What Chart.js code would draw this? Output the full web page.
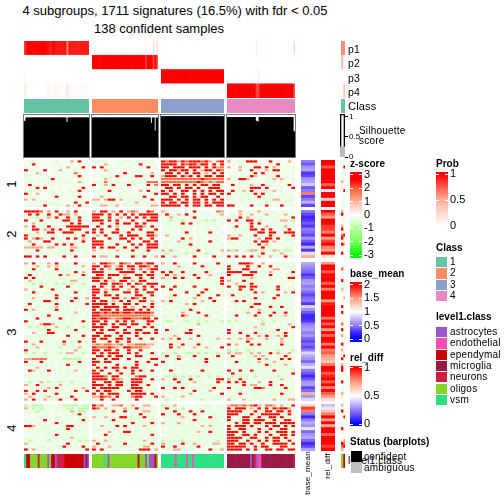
<!DOCTYPE html>
<html>
<head>
<meta charset="utf-8">
<script src="https://cdn.jsdelivr.net/npm/chart.js@4/dist/chart.umd.min.js"></script>
<style>
  html, body { margin: 0; padding: 0; background: #fff; }
  #page { position: relative; width: 504px; height: 504px; overflow: hidden; font-family: "Liberation Sans", sans-serif; color: #000; }
  #page canvas, #page .txt, #page .swatch { position: absolute; }
  .txt { white-space: nowrap; line-height: 1; letter-spacing: 0.2px; }
</style>
</head>
<body>
<div id="page"></div>
<script>
// heatmap rows, one char per two samples, see zLevels
const s1g1 = [".,,.....,...o.r..","..r.....,...,....",",..,...,.,.o...r.","r.,..r...o...,...",",..o,...,.,.,O,..",",,...,..,..,.,r,.","...,..,r.,,...,..",",,.,..,,,,,,,.o,.",".r,..,.,.....,...","...r.r...,...,.r.",",,,,,,,,.,.,,.r,,","r,.o...,..,...,..","...,...,r...,.r..","o.o,.,...,.,.,..,","..,.,,,,,....r..r",",,,,,r,,,,,o,.r,,"];
const s1g2 = [",,.,...,,,..,,,,.","...o,..,..,.r..,.","r.r...,..,..,.r.,","..,o,....,..,....","....,...r,.....o,",",.,,,,r,..,rr,,r.","...o.........,...",",,,O,,,,,,,,,.OOO","r.,o.r,..r,...r.O","...,,.,..,...,..,",",,,,r,..,...o.r.,","...,,..,.,..,..,r","..o,,.,,,,,,.r..,","oo.orr.o.,,,,,.r.",",,,,,,,.,,,o,,,.,",".,oo,,o.,,,,,.,oo"];
const s1g3 = ["rOrrorOrrrOro.Or","rrrr.rOrrorr.r.r","rr.rrr.rrr.r.roO","r.rrorr.r.orr.rO",".rr.r.r.rr.o.r.r","orrr.ror.r.rr.rr","OOOOOOOOOOrOOOOO","OOOOOOOOOrOoOoOO","rr.rr.r.r.rr.rr.",".rr.r.rr.r..rrr.","r.r..rr.r.r.r.rr","rr.r.r..r.r.rr.r","..rr.rr.r.rr..r.","rrr.r.r.rr.r.r.r","r.rr.rr.rr.r.rrr","rrrrr.r.rr.rr.rr"];
const s1g4 = ["o.,,,rrr..,r.,..o.","...,,...,,.,,r.,..","o..o..,rr.r.o,..,,","...o..r.,.o.rr.,.,","..,.,.,r.r,.,,...,",".,.,,,ro,.,,.r.,..","o.,rro,...,,o,o,.,",".,.,.,,.,.,.,.,,.,",".r,,.,o,.r,,.,.,r,","...,.,rrr.r...,..r",",r.,o,r..,,,o,,...","r.,.,,,r.r.,..,...","...,,,.,r,.,,,,,,.",",,.,,.,,.,.,oo.,,,","...,,.,.,.,,.,,,,.","rr,..,r.,,r,..r.,,"];

const s2g1 = ["rrrrO.o.r,.o.r.,.",".r.r..r,.roo,o.,.",",,,-,,o,r,,r.,r,.","r..,r,.,.,rr,.r,,",",.o,.,.,.,.,r,r..","o.r.,.r.,.,rrrrrr",",,rr,o,r,r,.rrr.,",".,.o.,rr.,rrr.,.r","r,,,.,.,,.,,,,.r,","r.oro,.r,.,r.r.o,",",o.,.rr,.,.,.,,r.",".,r,,.,.r,r,r,.,,","ooooo.oo.,.,oo,.,",",,.r,.,,.,.,r,,.,",".,,,,,,.,,,,,,.,,","rr.r.r,..,r.,r.,,"];
const s2g2 = ["o.rr.o.r.oOo.,rO.","rrr.r.r,r.r.rrrrr","rr.,r.,o.r.r.r.rr","rrr.r.r.,.r,.,rrr",".,r,.,r.rr.r,r.,,",".r,.r.o,..,rro.r,","r,r,..r.,.r,r.,.r","r.r.,rr.,r.,,.rr,",",o,r.,.r.rrr.,rro","r.,.r,.rr,r.r.,r.","rrr.,,.,.r.,.rr,r","rrr.,,r,,.r,r.rrr","r.r,rr.,r.,r..rrr","o,,.,.o,.,r.,,r.,",",,,,,.,.,,,,,,,.,","r.oo.,r.,.r,.r.,o"];
const s2g3 = ["o,.,,.,.r,.,..Oo",".r,.o,r.,.,.,.,o",",.o,,,.,r,.,.,.,",",,-,,-,,,,,-,-,,",",,.,,r.r.,,,,,.,",".,,,.,.,.,.,.,,.","..,,.,.,.,.,,.,.",",,.,.,r,.,.,r,.,",".o,.,.,,.,.,.,,.","..,,.r,o.,,.,.,.",",,,.o,,,.,.,r.,.",".,.,.,,r.,.,.,.,",",,,,,,,,,,,,,,,,","o.o,,.,.,r.,,.,o",",-,,,,-,,,,-,,,,","r,,o,.,.r,.,.r,,"];
const s2g4 = ["...o,,.,o,.,,.,,.,",",,.o.,o,.,o,.,,o.,",".,,r,o.,,,.,,,.,.r","r.r.,rr.-,,.,,oo,-",".,.,.,r.r,.,,,.,,,",".,r,,,r,,.o,.,,o,,",",,,,,,rr.r,r..,,r.","..,.,,.,rr.rr,.rrr","o,,o,,,r.,.r,.,,.r","orr,.,.,o.rr,r,,,,",",.,.,.,r.rr,o,.,,.",".,.,.,,,r,o,.,,,.,","..,,,.,,.r,.,,.,,,","o-o,,-oo,-,,o-,--,",".,,.,.,.,r,.,,o,.,","r.r.r.r.o,,o.,.r,,"];

const s3g1 = ["o.r.,.o.r,.,,r.,.",",.,o,.o,o,.,.,,o.","..r.,.,.r.,,,.,.,",",,,,,,,,,,,,,r,o,",".r.,.,.,.r,o,.,r,","r,r,,.,,,,,.,.,.,",",o,,,.,,,.,,oo,,,",",,-,-,,,-,-,-,,-,",",.,.r,,,,,.r,.,,,","o.,.,.,r,.,.,.,.,","..r,.,,,.,.,,r,.,",",,,,.,.,r,,,.,,.,","..o,.,.,r,.,,r,,o","..,,.rr,,.,.r,,.,",".r.,.,.,r,.,.,,,r",",,.,,.,,o,.,.,,,.","r,o,.,,,r,,,.,.,.",",,.,,,,.,,.,,o,.,",",.,.,.r.,.,.,,,.,","..,r,,,,,r,.,,.,,","r.,.,.,,.,,.,.,r,",",,,,orro,,,,,.,,,",",-,-,-,,o,,-,.,-,","...,,,r,,.,,,r,.,","..o,.,rr,.,.,.,,.",",,.,,,,,,.,r,,.r,",".,.,,,.,.,.,.,,,.","r.,.r,,.,,r.,,r.,",",,o,,,.,,,o,,.,,,",",,,o,,,.,-,,,,o,,","r.,,.,,,.,.,,o,,,","-,-,,-,,,-,oo,,-,",".,.,,,,.,.,,.,,,.","ooOOOO,,,,-----,,","r.,.r,.,.,,.,.r,.",",,,,.,,,.,.r,,,,.","...o,,.,.,.,.,.,,",".ro,.,r,.,,,,o.,.","..,.,.,.,,.,,,.,.",",,,,,,,.,,,,.,,,,",".,.,.,.,,.,.,.,.,",",-,,o,-,,-,,-,,,,","o,.r.,,,.o,,.,.,.","..,,.,o,r,,.,,,o,","r,,r.r,.,.,.,r,,r","o,r.,,.,r,.,.,.,,",",o,.,,o,,.,.r,,.,","o.r,.o,,,r,.,r.,."];
const s3g2 = ["o.rrOo.rOo.rrorr.","rr.rO.or.rr.rrO.r","r.r.o,rr.or.O.orr","rrr.,.,rrrr.,r.r.",".rr.rrr.o.,rr.rr,","rrO.r.,.rr,.r,.r.","rr,r,o,rr,o,rr.,,",",,rr.rrO.r.rO,rrr","r.r,.r.r.,r,.r.r.","rr,o,rr,.o,r.r,,r","rr.r,,.,rr.r.,rr.","r,,rr,r.,.,rr,.r,","rr.,.rr,o,rO,r.,.","r.rr.o.r.r.,rr,o.","rrrr,r,,rr.r,.,r,","rr.rrrr,r.o.,r.r,","r,rrr.r.rrr,r,r.,","rrOrOrrOrrOrrrrO.","rrOOOOOOOOOOOOOo,","rOrrOoOOrrOOOrr.r","rr.r,.r,r,r,.,rr,","r,rr.r,rr,rr,.r.,","rrr.,rr.,r,,.r.r,","r.r,rr.,r.,rr,,.r",".rr,.,r,rr,r,rr.r","rr,rr,,r,.,r,,,.,","r,rr,.rr,r,,r.,r.","r.,,r.r,.r.,.,.,,","oOoOOooO,ooOOOoo,","rOOOrOo,rrOOOoo.,","rr,rr,r.,r,,r,,.,","r,r,rrr,,r,r.,,r,",",rr,r.rr,.,rr,.,,","r,.r.rr,.r,.,,,rr","rr,rr.,.,.,r,.r,,","r.,.,,r,,,.r,,.,r",",r,r.rr,r,rr,,.,.","r,r.,,r,.,r,r,,r.","rr,,r,.r.,r,.,,,.","rrrO,rr,.,.Orr,.,","rrrr,rOo,,rrr,.r,","r,,rr,rr.,rrr,.,.","rrr.r.rr,,rr,,r,,","r.rrrrr,.,rrr,.,,",".r,rr,,.,r,rr,,,.","r.r,rrr,.,rrrr.r,","oorOO.r,.,Orr,,.r",",,r.,r.,.,.r,.,,."];
const s3g3 = ["o,,r,.,.r,.,.,r,",",.,,o,,.,.r,,.,,","..,,,,,,,,,,,,,,","r.r,.r,,.,.r,.,,",",r,o,,.,r,,,o,,.","o,,r,r,.,r.,,.,r",",,,,.,,,.,.,,,.r","...,.,.,.,.,,,,r","r,.r,,.,r,.,,,.,",",.r,,.,.,.,r,.,,",",.,,.,r,,,r,,,.,","..,r,.,.,r,.,,r,",".,,,,.,,o,,,r,.,","o,r,,.,.,.o,.r,.",".,,.,,o,r,,,.,.,",",.,,,,,,,,.,,,,.",".,.,,,,r,,.,,,.,","..,.,o,,.r.,,,,.",",,,,,ro,,,,r,.,,",",,.,,.,,,,,,,,,.",",--,,,-,,-,-,,,-",",.,.,,.,,o,,.,.,",",.,,,.,,,.,.,,,,",".r,,.,,r,.,,,.,.",",,,,,,rr.,,,,,.,",",,,o,.,,.r,,,,,,","o,o,r,,o,.,.,,o,",".,,,,,,,,,,.,,,,",",.r,,r,,,r,.,,.,",",,r,o,.,o,,o,.,r",".,.,,,.,,,,,,,.,","-,,-,,--,-,-,,-,",",r,,o,,,r,,.,,r,",",,.,r,.,,.,r,,,,","r,.,,.,,.,,r,.,.",",,.,,,,,,,,,,,,,",".,,,.,,,,,,.,,,,",",,r,.,,,.,r,,,.,","...,,,,.,.,,,,.,",",-,-,-,-,-,,-,-,","o,,r,,,r,.,.,,rr",",,.,r,,,o,,.,.r,",",.,,.,,.,.,,,,,.","r,,r,r,,,,,,,r,,",",,.,,,,,r,.,o,.,",",.,,.,,o,,,,,.,r","o,.,,o,,,,.,,,,,",",-,,.,,,,,-,,,,."];
const s3g4 = [",,.rrrO.,o.,,.,,.,","r,.,,r,.r.,r.,,,,,","r.,.rr.,.,.,oo.,,.","rrrr.,rr.,,o,.,.,r","r,.,rrr,.,.r.,.,.,",",.,.,,o,.,.,,.,,rr","o.,.r,.,,.,,,.,,,,",",,o,,,r,.,,,.,,,.,","r.,rr.rr,,,,.r,.,,",",,.r,,r,,.,.,r.,,,",",.,,.,,r,o,,.,.o.r",",r,,,,,.,,,.,r.,,.",",.,,,,,r,,.,r,,,,.",".,r,r,,,.,,.,,,,,,","..,.,,,rr,.,,,,,.,",",,.,,,r,,.,r,,r.,.",".,,,,,,.o,,,,,.,,,",",.,,,o,.r,,,r,,r,,",".,r,.,,r,,,r,,,o,,",",,.,.,.,,,,,,,,,,,","-,-,,,,.,-,,-,,,.,",",,.,,,,,,o,,,.,.o,",".,.,,,,o,,,,.,,,,r","r,.,,,.,,,.,,r,,.,","r,.r,,,r,,,,,,,r,,",".,,.,r,,o,r,,o,r,,","o,,o,oo,,,o,,,o,,,",",,,.,r,,,,,,.,o,,,","r.o,,,r,r,,,.,r.,,","..,.,,,,,,,.,,.,,,","-,-,,-,,,,,,,-,,,-","o,oo,,o,o,,r,o,,o,",",r,,.,,o,o,,.,.r,,",",,,,,,,,r,o,.,r,r,",",.r,.,,.o,.,o,,,,.",",,.,,,,,,,r,,,,o,,",",,,,,,,,,.,,,,,,,,","r,.r,,r,,,.,r,,,.,",".r,,,.,,,,,,.,.,,r",",-,-,,,-,,,,,-,,,,","o.,r,,,,,,,.,,o,,.","r,r,r,,.o,,r,,,,.,",".,,,r,oo,.,r,,r,,,","r,,,.,,rrO,,,.,r,,",",.,,,.,,,,.,,,.,,,",".,,r,.,,.,,,,,r,,,",",,,,.,,,,,,,,.,,,,","o,,,o,,,,,,,o,,,oo"];

const s4g1 = ["-,---,,,.,----,--","o,-,-,.,,,,--,---",",,,-,,,.,.,,o,--,",",,.,.,,.,.,.,,r,.","...,,.,.,,.,,.,.,",",.,.,r,.,.,.,.,r,",",,.,.,.,r,,,.,,,,","rro,,,,,.,,rr,,,,",".,,,.,,.,,,r.,.,.",",,.,,,,,,,.,,,,,,","..,,.,,,r,,,,,.,,",",,.,.,.,,,,,o,,,,",",-,,,,-,,.,,,,-,-","o,,.,,.,,.,r,,.,,",",,.,,,,,,,r,,,,r,","r,o,,.,,.,.,.,.,r"];
const s4g2 = ["roO.,ooO,,o,,oo,.","rO,o,,.,o,,r,,.,,",",,,,,r,.r,,,,oo,.",",,.,,.,,,.,.r,,.,","o,,o,,,rr,,,,r,,.",",,.,,r,,.,,,,.,,,",",.,,,.,,,,r,,,,r,",",.o,,,r,r,,,,o,,,",",,,,,,,,.,.,,,,,,",",,.,o,,,rr,,.,,,,","..,r,,.,,,,,,,,r,",",,.,,.,,,,,,,.,,,","o,,o,,.,,.,,,o,,,",",r,,,,,,r,,,,,,r,","o,.,o,,,,,,,,oo,,","r,r,,.,,,,,,rrr,o"];
const s4g3 = ["-,,o,,.,,,,,,.,,",",r,,.-,.,,,,,.,,",",.,r,,,r,,r,,,,,","r,,,r,,,r,,.,,,,",",,,,,o,.,,,.r,,,",".,,,,,,,r,,,,,,.","o,,,o,.,.,,.,,,,",",,,,,,,,,,o,o,,,",",.,,.,,,,,,,,,,.",",,,,,,,,,o,,r,,,","..,.,.,,,,,,,,,,",",,,,,,,,,,,,,.,,","-,,,,-,,,,,,,,-,","o,,.,r,,o,,,,oo,","r,,r,,.,,r,.,,.,",",,,oo,,,,,,.r,,o"];
const s4g4 = ["oOOoOoOro,OOo,o.,r","r.rrr,o,r,r.rOrro,","rrrr,,.r,,rr.rr,r,","rrr,,,r,,rrrrr,,r.","r.,,rr,.r,,rr,r,,.","r,.,rr,rrr,,r,,rr,",",,r,rr.rr,rrr,rrrr","r,rrr,r,,,r,rr,r,r","r,,rr,,,r,,r,,rr,.","rrr,r,,,r,r,,rrr,r","rr,,rr,r,,,r,,rr,r","rrrr,,rr,,r,rr,r,,","rrr,,r,,r,r,rr,,r,","rr,rr,r,,r,,rrrr,r","rrrrr,,r,rr,,,rr,,","rrrr,r,r,,rr,rr,rr"];

// row annotations
const baseMean1 = [.5,.4,.6,.65,.3,.35,.6,.65,.8,.4,.5,1.6,.35,.5,.7,.35];
const baseMean2 = [.5,.35,.25,.3,.4,.3,.5,.45,.35,.6,.4,.25,.7,.3,.9,1.4];
const baseMean3 = [.7,.6,.5,.45,.3,.4,.6,.65,.5,.6,.45,.35,.45,.5,.3,.85,.6,.4,.25,.25,.3,.5,.6,.65,.5,.6,.45,.35,.45,.35,.5,.85,.7,.6,.45,.7,.9,.5,.4,.25,.4,.6,.65,.35,.45,1.4,.6,.85];
const baseMean4 = [1.2,1.8,1.6,.5,.25,.5,.7,.6,.9,.45,.6,.7,.45,.25,.35,.65];
const relDiff1 = [1,1,.85,1,1,1,1,1,.85,1,.45,1,1,.6,1,1];
const relDiff2 = [1,.85,.75,1,1,.9,.9,.8,1,.75,.9,1,.8,.75,1,.58];
const relDiff3 = [.75,1,1,.85,1,1,1,.85,1,.8,1,1,1,.75,.95,1,1,1,1,.8,1,.85,1,.75,1,.85,1,1,.8,1,.8,.85,.75,.7,.65,.8,1,1,.85,.95,1,.85,1,.8,1,.85,.75,.6];
const relDiff4 = [.38,.45,.65,.8,1,.75,1,.7,1,1,.85,1,1,1,.9,1];
const strip1 = [",.","..",",r",".,",",.","..",".,","o.","..",",.",".r","..",".,",",.","..",",,"];
const strip2 = ["o.","r.",".,","..",",.","o.","r.",",,","Or","r.",",.","ro",",.","..","r.",".,"];
const strip3 = ["..",".,","O.",",.","..",".,","r.",",.","..","o,",",.","..",".o",",.","..","r.",",.","r,",".,","..",",.","O.",",,","r.","..","o.",",.","..","r,",".,","o.","..",",r","r.",",.","o.","r.","r.",".,",",.","..","r,",".,","..",",.","o.",",.",".."];
const strip4 = ["o.",".,","r.",",.",",r","..",".,",",.","r.",",.",".,","..",",o","rO","Or","o."];

// column annotations, per sample
const p1g1 = [.85,1,1,1,1,1,1,1,1,1,1,1,.95,.9,.95,1,.93,.93,.93,.93,.93,.93,.65,.92,.92,.92,.92,.92,.92,.92,.92,.92,.92,.92];
const p2g1 = new Array(34).fill(0);
const p3g1 = [.03,0,0,0,0,0,0,0,0,0,0,0,0,0,0,0,0,0,0,0,0,0,0,0,0,0,0,0,0,0,0,0,0,0];
const p4g1 = [.1,0,0,0,0,0,0,0,0,0,0,0,.08,0,.04,.04,.05,.05,.04,.04,.03,.04,.15,.04,.03,.03,.03,.03,.03,.03,.03,.03,.03,.03];
const p1g2 = [0,0,0,0,0,0,0,0,0,0,0,0,0,0,0,0,0,0,0,0,0,0,0,0,0,0,0,0,.03,0,0,0,.15,0,.2];
const p2g2 = [1,1,1,1,1,1,1,1,1,1,1,1,1,1,1,1,1,1,1,1,1,1,1,1,1,1,1,1,.85,1,1,1,.8,1,.75];
const p3g2 = new Array(35).fill(0);
const p4g2 = new Array(35).fill(0);
const p1g3 = new Array(33).fill(0);
const p2g3 = new Array(33).fill(0);
const p3g3 = new Array(33).fill(1);
const p4g3 = new Array(33).fill(0);
const p1g4 = [0,0,0,0,0,0,0,0,0,0,0,0,0,0,0,.1,0,0,0,0,0,0,0,0,0,0,0,0,0,0,0,0,0,0,0,.25];
const p2g4 = new Array(36).fill(0);
const p3g4 = [0,0,0,0,0,0,0,0,0,0,0,0,0,0,0,0,.1,0,0,0,0,0,0,0,0,0,0,0,0,0,0,0,0,0,0,0];
const p4g4 = [1,1,1,1,1,1,1,1,1,1,1,1,1,1,1,.8,.8,1,1,1,1,1,1,1,1,1,1,1,1,1,1,1,1,1,1,.75];
const silG1 = [.85,.93,.93,.93,.93,.93,.93,.93,.93,.93,.93,.93,.93,.93,.93,.93,.93,.93,.93,.93,.93,.93,.82,.93,.93,.93,.93,.93,.93,.93,.93,.93,.93,.93];
const silG2 = [.93,.93,.93,.93,.93,.93,.93,.93,.93,.93,.93,.93,.93,.93,.93,.93,.93,.93,.93,.93,.93,.93,.93,.93,.93,.93,.93,.93,.93,.93,.93,.8,.93,.62,.93];
const silG3 = new Array(33).fill(.96);
const silG4 = [.94,.94,.94,.94,.94,.94,.94,.94,.94,.94,.94,.94,.94,.94,.94,.85,.83,.94,.94,.94,.94,.94,.94,.94,.94,.94,.94,.94,.94,.94,.94,.94,.94,.94,.94,.6];
const cellG1 = "veeoooonooooaoeeannnneeeeeeeeeeama";
const cellG2 = "oooooovoaoooooooooooooooeoooaoaaaeo";
const cellG3 = "vvvvvvvdvvvvvdvvdvvvvvvvvvvvvvvvv";
const cellG4 = "mmmmmmmmmmmmamnaddmmmmmmmmmmmmmmmmmn";

// side summaries and legend tables
const sideProb = [[.6,.6],[.4,0],[0,0],[0,.35]];
const sideSilhouette = [.25];
const classes = ["1","2","3","4"];
const cellClasses = ["astrocytes","endothelial","ependymal","microglia","neurons","oligos","vsm"];
const cellKeys = ["a","d","e","m","n","o","v"];
const statusNames = ["confident","ambiguous"];
const zTicks = [3,2,1,0,-1,-2,-3];
const probTicks = [1,0.5,0];
const baseTicks = [2,1.5,1,0.5,0];
const relTicks = [1,0.5,0];
const silTicks = [1,0.5,0];

// colours
const zLevels = {".":-0.1, ",":-0.3, "-":-0.9, "o":1.1, "O":1.8, "r":3};
const zStops = [[-3,"#00ff00"],[-2,"#7dff5c"],[-1,"#b5ff9d"],[0,"#ffffff"],[1,"#ffb39c"],[2,"#ff5a35"],[2.6,"#ff0000"],[3,"#ff0000"]];
const probStops = [[0,"#ffffff"],[.5,"#ffb09c"],[1,"#ff0000"]];
const baseStops = [[0,"#0000ff"],[.25,"#3f25ff"],[.5,"#8f7bf5"],[.75,"#c5baf8"],[1,"#ffffff"],[1.5,"#ff9e81"],[2,"#ff0000"]];
const relStops = [[0,"#0000ff"],[.25,"#8f7bf5"],[.5,"#ffffff"],[.75,"#ff9e81"],[1,"#ff0000"]];
const classColors = {1:"#66c2a5",2:"#fc8d62",3:"#8da0cb",4:"#e78ac3"};
const cellColors = {a:"#9c55cc",d:"#f34fb2",e:"#cc0000",m:"#9b1a45",n:"#cf1f3e",o:"#84d62a",v:"#2fe082"};
const heatBackground = "#ecffe4";

const page = document.getElementById("page");

function hex(c) { return [1,3,5].map(i => parseInt(c.substr(i,2),16)); }

function ramp(stops, v) {
  if (v <= stops[0][0]) return stops[0][1];
  for (let i = 1; i < stops.length; i++) {
    if (v <= stops[i][0]) {
      const t = (v - stops[i-1][0]) / (stops[i][0] - stops[i-1][0]);
      const a = hex(stops[i-1][1]), b = hex(stops[i][1]);
      return `rgb(${a.map((x,j) => Math.round(x + (b[j]-x)*t)).join(",")})`;
    }
  }
  return stops[stops.length-1][1];
}

function addCanvas(x, y, w, h) {
  const c = document.createElement("canvas");
  c.width = w; c.height = h;
  c.style.left = x + "px"; c.style.top = y + "px";
  c.style.width = w + "px"; c.style.height = h + "px";
  page.appendChild(c);
  return c;
}

function label(text, x, y, o) {
  o = o || {};
  const s = document.createElement("span");
  s.className = "txt";
  s.textContent = text;
  s.style.left = x + "px"; s.style.top = y + "px";
  s.style.fontSize = (o.size || 10) + "px";
  if (o.bold) { s.style.fontWeight = "bold"; s.style.letterSpacing = "0"; }
  if (o.center) s.style.letterSpacing = "0";
  let tr = o.center ? "translate(-50%,-50%)" : "translateY(-50%)";
  if (o.rot) tr = "translate(-50%,-50%) rotate(-90deg)";
  s.style.transform = tr;
  page.appendChild(s);
}

function swatch(x, y, w, h, color) {
  const d = document.createElement("div");
  d.className = "swatch";
  d.style.cssText = `left:${x}px;top:${y}px;width:${w}px;height:${h}px;background:${color}`;
  page.appendChild(d);
}

const hiddenAxis = { display: false, stacked: true };

// stacked horizontal bars, one dataset per column, one bar per row
function matrix(box, rows, color, thickness) {
  const nCols = Math.max(...rows.map(r => r.length));
  const datasets = [];
  for (let c = 0; c < nCols; c++) {
    datasets.push({
      data: rows.map(() => 1),
      backgroundColor: rows.map(r => color(r[c])),
      barPercentage: thickness || 1,
      categoryPercentage: 1,
      borderWidth: 0
    });
  }
  return new Chart(addCanvas(box[0], box[1], box[2], box[3]), {
    type: "bar",
    data: { labels: rows.map((_, i) => i), datasets: datasets },
    options: {
      indexAxis: "y",
      responsive: false,
      animation: false,
      events: [],
      plugins: { legend: { display: false }, tooltip: { enabled: false } },
      scales: { x: { ...hiddenAxis, min: 0, max: nCols }, y: hiddenAxis }
    }
  });
}

// gradient colorbar with labelled ticks on the right
function colorbar(x, y, w, h, stops, ticks, min, max) {
  const pad = 7, extra = 30;
  new Chart(addCanvas(x, y - pad, w + extra, h + pad * 2), {
    type: "bar",
    data: { labels: [""], datasets: [{
      data: [[min, max]],
      barPercentage: 1,
      categoryPercentage: 1,
      backgroundColor: ctx => {
        const area = ctx.chart.chartArea;
        if (!area) return stops[0][1];
        const g = ctx.chart.ctx.createLinearGradient(0, area.bottom, 0, area.top);
        stops.forEach(s => g.addColorStop(Math.min(1, Math.max(0, (s[0] - min) / (max - min))), s[1]));
        return g;
      }
    }] },
    options: {
      responsive: false,
      animation: false,
      events: [],
      layout: { padding: { top: pad, bottom: pad } },
      plugins: { legend: { display: false }, tooltip: { enabled: false } },
      scales: {
        x: { display: false },
        y: {
          position: "right",
          min: min, max: max,
          afterBuildTicks: a => { a.ticks = ticks.map(v => ({ value: v })); },
          afterFit: a => { a.width = extra; a.paddingTop = 0; a.paddingBottom = 0; },
          grid: { color: "#fff", z: 1, drawTicks: false },
          border: { display: false, dash: [3, 6] },
          ticks: { color: "#000", padding: 2, autoSkip: false, font: { family: "Liberation Sans", size: 11 }, callback: v => String(v) }
        }
      }
    }
  });
}

const groupX = [[24,65],[92,66],[161,63],[227,68]];
const sliceY = [[160,47],[210,48],[262,139],[404,47]];
const heat = [[s1g1,s1g2,s1g3,s1g4],[s2g1,s2g2,s2g3,s2g4],[s3g1,s3g2,s3g3,s3g4],[s4g1,s4g2,s4g3,s4g4]];
const zColor = ch => ramp(zStops, ch === undefined ? -0.2 : zLevels[ch]);

// titles
label("4 subgroups, 1711 signatures (16.5%) with fdr < 0.05", 175, 10, { size: 13, center: true });
label("138 confident samples", 159, 28, { size: 13, center: true });
label("level1.class", 348, 461, { size: 10 });

// heatmap panels, thin bars leave the row background showing between them
heat.forEach((slice, s) => {
  slice.forEach((rows, g) => {
    const chart = matrix([groupX[g][0], sliceY[s][0], groupX[g][1], sliceY[s][1]], rows.map(r => r.split("")), zColor, 0.72);
    chart.canvas.style.background = heatBackground;
    chart.canvas.style.filter = "blur(0.35px)";
  });
  label(String(s + 1), 11, sliceY[s][0] + sliceY[s][1] / 2, { size: 13, rot: true });
});

// top and bottom annotations for each group
const probRows = [[p1g1,p2g1,p3g1,p4g1],[p1g2,p2g2,p3g2,p4g2],[p1g3,p2g3,p3g3,p4g3],[p1g4,p2g4,p3g4,p4g4]];
const silhouette = [silG1,silG2,silG3,silG4];
const cells = [cellG1,cellG2,cellG3,cellG4];
groupX.forEach((gx, g) => {
  matrix([gx[0], 41, gx[1], 57], probRows[g], v => ramp(probStops, v));
  matrix([gx[0], 99, gx[1], 14], [[g + 1]], v => classColors[v]);
  matrix([gx[0], 454, gx[1], 14], [cells[g].split("")], v => cellColors[v]);

  // silhouette barplot
  new Chart(addCanvas(gx[0], 115, gx[1], 42), {
    type: "bar",
    data: { labels: silhouette[g].map((_, i) => i), datasets: [{
      data: silhouette[g], backgroundColor: "#000", barPercentage: 1, categoryPercentage: 1, inflateAmount: 0.5
    }] },
    options: {
      responsive: false, animation: false, events: [],
      plugins: { legend: { display: false }, tooltip: { enabled: false } },
      scales: { x: { display: false }, y: { display: false, min: 0, max: 1 } }
    }
  }).canvas.style.outline = "1px solid #777";
});

// row annotations
const baseAll = [baseMean1, baseMean2, baseMean3, baseMean4];
const relAll = [relDiff1, relDiff2, relDiff3, relDiff4];
const stripAll = [strip1, strip2, strip3, strip4];
sliceY.forEach((sy, s) => {
  matrix([301, sy[0], 14, sy[1]], baseAll[s].map(v => [v]), v => ramp(baseStops, v));
  matrix([321, sy[0], 14, sy[1]], relAll[s].map(v => [v]), v => ramp(relStops, v));
  matrix([341, sy[0], 4, sy[1]], stripAll[s].map(r => r.split("")), zColor);
});
label("base_mean", 308, 473, { size: 8, rot: true });
label("rel_diff", 328, 466, { size: 8, rot: true });

// side summaries next to the annotations
matrix([341, 41, 4, 57], sideProb, v => ramp(probStops, v));
matrix([341, 99, 4, 14], [[1, 1]], v => classColors[v]);
matrix([341, 454, 4, 14], [["o", "e"]], v => cellColors[v]);
["p1","p2","p3","p4","Class"].forEach((t, i) => label(t, 348, 49 + i * 14.3, { size: i === 4 ? 11 : 10.5 }));

// silhouette side bar
new Chart(addCanvas(338, 108, 24, 56), {
  type: "bar",
  data: { labels: [""], datasets: [
    { data: sideSilhouette, backgroundColor: "#bbb", barPercentage: 1, categoryPercentage: 1, grouped: false },
    { data: [1.07], backgroundColor: "rgba(0,0,0,0)", borderColor: "#000", borderWidth: 1, barPercentage: 1, categoryPercentage: 1, grouped: false }
  ] },
  options: {
    responsive: false, animation: false, events: [],
    layout: { padding: { top: 6, bottom: 7, left: 2 } },
    plugins: { legend: { display: false }, tooltip: { enabled: false } },
    scales: {
      x: { display: false },
      y: {
        position: "right", min: 0, max: 1.07,
        afterBuildTicks: a => { a.ticks = silTicks.map(v => ({ value: v })); },
        afterFit: a => { a.width = 17; a.paddingTop = 0; a.paddingBottom = 0; },
        grid: { display: true, drawOnChartArea: false, tickLength: 3, color: "#000" },
        border: { display: false },
        ticks: { color: "#000", padding: 1, autoSkip: false, font: { family: "Liberation Sans", size: 8 }, callback: v => String(v) }
      }
    }
  }
});
label("Silhouette", 359, 131, { size: 10 });
label("score", 359, 141, { size: 10 });

// legends
label("z-score", 350, 164, { bold: true });
colorbar(350, 172, 12, 86, zStops, zTicks, -3.2, 3.2);
label("base_mean", 350, 274, { bold: true });
colorbar(350, 282, 12, 60, baseStops, baseTicks, -0.1, 2.1);
label("rel_diff", 350, 358, { bold: true });
colorbar(350, 366, 12, 60, relStops, relTicks, -0.03, 1.03);
label("Status (barplots)", 350, 442, { bold: true });
swatch(351, 451, 11, 11, "#000");
swatch(351, 462, 11, 11, "#bebebe");
statusNames.forEach((t, i) => label(t, 364, 457 + i * 11, { size: 10 }));

label("Prob", 436, 164, { bold: true });
colorbar(436, 172, 12, 56, probStops, probTicks, -0.04, 1.04);
label("Class", 436, 248, { bold: true });
classes.forEach((t, i) => {
  swatch(436, 257 + i * 11.3, 11, 10.3, classColors[t]);
  label(t, 450, 262 + i * 11.3, { size: 10 });
});
label("level1.class", 436, 317, { bold: true });
cellClasses.forEach((t, i) => {
  swatch(436, 327 + i * 11.3, 11, 10.3, cellColors[cellKeys[i]]);
  label(t, 450, 332 + i * 11.3, { size: 10 });
});
</script>
</body>
</html>
